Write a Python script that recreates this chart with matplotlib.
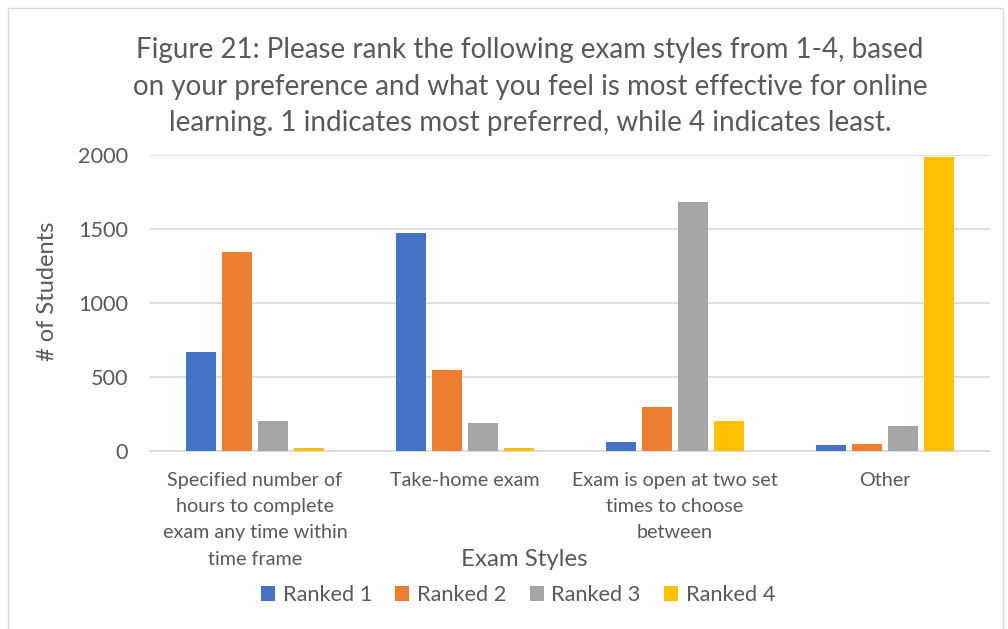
import numpy as np
from matplotlib import pyplot as plt
from matplotlib.patches import Rectangle

# data
categories = ["Specified number of\nhours to complete\nexam any time within\ntime frame",
              "Take-home exam",
              "Exam is open at two set\ntimes to choose\nbetween",
              "Other"]
series_names = ["Ranked 1", "Ranked 2", "Ranked 3", "Ranked 4"]
ranked_1 = [669, 1473, 59, 36]
ranked_2 = [1345, 547, 295, 45]
ranked_3 = [200, 189, 1682, 167]
ranked_4 = [20, 20, 200, 1986]
colors = ["#4472C4", "#ED7D31", "#A5A5A5", "#FFC000"]

plt.rcParams['font.family'] = ['Lato', 'DejaVu Sans']
txt = "#595959"

fig = plt.figure(figsize=(10.08, 6.29), dpi=100)
ax = fig.add_axes([150/1008, 1-450.7/629, 840/1008, 296/629])

x = np.arange(len(categories))
slot = 0.1726
w = 0.143
for i, vals in enumerate([ranked_1, ranked_2, ranked_3, ranked_4]):
    ax.bar(x + (i-1.5)*slot, vals, w, color=colors[i], label=series_names[i], zorder=3)

ax.set_xlim(-0.5, 3.5)
ax.set_ylim(0, 2000)
ax.set_yticks([0, 500, 1000, 1500, 2000])
ax.yaxis.grid(True, color="#D9D9D9", linewidth=1.2, zorder=0)
for s in ["top", "right", "left"]:
    ax.spines[s].set_visible(False)
ax.spines["bottom"].set_color("#D9D9D9")
ax.spines["bottom"].set_linewidth(1.2)
ax.tick_params(axis="both", length=0, colors=txt)
ax.tick_params(axis="y", labelsize=15.6, pad=15.8)
ax.set_xticks(x)
ax.set_xticklabels(categories, fontsize=14.2, color=txt, linespacing=1.67, va="top")
ax.tick_params(axis="x", pad=15)

fig.text(47/1008, 1-291/629, "# of Students", fontsize=17, color=txt, rotation=90,
         ha="center", va="center")
fig.text(524/1008, 1-560/629, "Exam Styles", fontsize=17.3, color=txt, ha="center", va="center")

fig.text(530/1008, 1-86.5/629,
         "Figure 21: Please rank the following exam styles from 1-4, based\n"
         "on your preference and what you feel is most effective for online\n"
         "learning. 1 indicates most preferred, while 4 indicates least.",
         fontsize=20, color=txt, ha="center", va="center", linespacing=1.48)

fig.legend(loc="center", bbox_to_anchor=(518/1008, 1-595/629), ncol=4, frameon=False,
           fontsize=15.7, labelcolor=txt, handlelength=0.65, handleheight=0.65,
           columnspacing=1.06, handletextpad=0.35)

fig.patches.append(Rectangle((8/1008, -0.05), 995/1008, 1-8/629+0.05, transform=fig.transFigure,
                             fill=False, edgecolor="#D9D9D9", linewidth=1))

fig.savefig("out.png", dpi=100)
